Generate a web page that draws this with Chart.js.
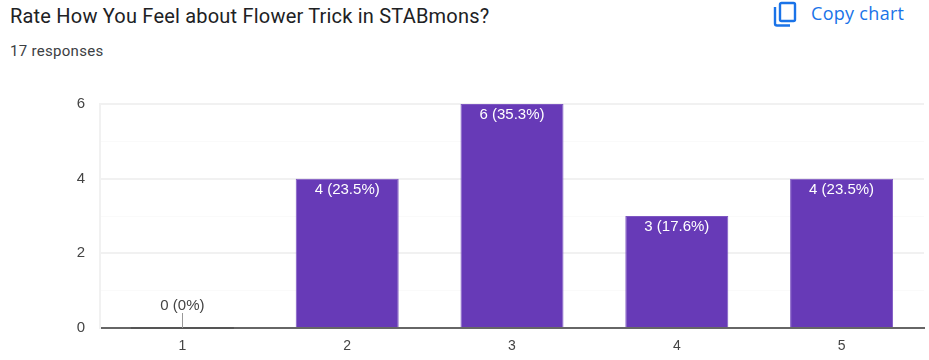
<!DOCTYPE html>
<html>
<head>
<meta charset="utf-8">
<title>Rate How You Feel about Flower Trick in STABmons?</title>
<script src="https://cdn.jsdelivr.net/npm/chart.js@4"></script>
<style>
  html, body { margin: 0; padding: 0; background: #fff; }
  body { width: 929px; height: 360px; position: relative; overflow: hidden; font-family: Roboto, sans-serif; }
  #title { position: absolute; left: 10px; top: 4px; font-size: 20px; line-height: 24px; letter-spacing: .2px; color: #202124; white-space: nowrap; }
  #sub { position: absolute; left: 10px; top: 41px; font-size: 15px; line-height: 20px; color: #3c4043; letter-spacing: .3px; white-space: nowrap; }
  #copy { position: absolute; left: 773px; top: 1px; height: 26px; color: #1a73e8; font-family: "Open Sans", sans-serif; font-size: 18px; line-height: 24px; letter-spacing: .3px; }
  #copy svg { position: absolute; left: 0; top: 0; }
  #copy span { position: absolute; left: 38px; top: 0; white-space: nowrap; }
  #wrap { position: absolute; left: 0; top: 80px; width: 929px; height: 281px; }
</style>
</head>
<body>
<div id="title">Rate How You Feel about Flower Trick in STABmons?</div>
<div id="sub">17 responses</div>
<div id="copy">
  <svg width="24" height="26" viewBox="0 0 24 26" fill="none" stroke="#1a73e8" stroke-width="2.4">
    <rect x="7" y="2" width="15" height="18" rx="1.5"></rect>
    <path d="M2 6 V22.5 Q2 24.5 4 24.5 H17"></path>
  </svg>
  <span>Copy chart</span>
</div>
<div id="wrap"><canvas id="chart"></canvas></div>
<script>
// --- Data ---
const categories = ['1', '2', '3', '4', '5'];
const counts = [0, 4, 6, 3, 4];
const barLabels = ['0 (0%)', '4 (23.5%)', '6 (35.3%)', '3 (17.6%)', '4 (23.5%)'];
const yTickLabels = ['0', '2', '4', '6'];

// value labels sit inside the bar, or above a leader line when the bar is empty
const barLabelPlugin = {
  id: 'barLabels',
  afterDatasetsDraw(chart) {
    const ctx = chart.ctx;
    const y0 = chart.scales.y.getPixelForValue(0);
    ctx.save();
    ctx.font = '15px "Liberation Sans", Arial, sans-serif';
    ctx.textAlign = 'center';
    ctx.textBaseline = 'middle';
    chart.getDatasetMeta(0).data.forEach((bar, i) => {
      if (counts[i] === 0) {
        ctx.fillStyle = '#555';
        ctx.fillRect(bar.x - bar.width / 2, y0 - 1, bar.width, 2);
        ctx.fillStyle = '#999';
        ctx.fillRect(Math.round(bar.x), y0 - 15, 1, 15);
        ctx.fillStyle = '#444';
        ctx.fillText(barLabels[i], bar.x, y0 - 22);
      } else {
        ctx.fillStyle = '#fff';
        ctx.fillText(barLabels[i], bar.x, bar.y + 11);
      }
    });
    ctx.restore();
  }
};

new Chart(document.getElementById('chart'), {
  type: 'bar',
  data: {
    labels: categories,
    datasets: [{
      data: counts,
      backgroundColor: '#673ab7',
      borderColor: '#7e57c2',
      borderWidth: 1,
      barPercentage: 0.625,
      categoryPercentage: 1
    }]
  },
  options: {
    responsive: true,
    maintainAspectRatio: false,
    animation: false,
    layout: { padding: { top: 5, right: 5, left: 0, bottom: 0 } },
    plugins: { legend: { display: false }, tooltip: { enabled: false } },
    scales: {
      x: {
        grid: { display: false },
        border: { color: '#666', width: 2 },
        ticks: { color: '#444', padding: 2, font: { family: '"Liberation Sans", Arial, sans-serif', size: 14 } },
        afterFit: (axis) => { axis.height = 33; }
      },
      y: {
        min: 0,
        max: 6,
        afterFit: (axis) => { axis.width = 100; },
        border: { color: '#f1f1f1', width: 2 },
        grid: {
          drawTicks: false,
          color: (c) => (c.tick.value % 2 === 0 ? '#f1f1f1' : '#fafafa'),
          lineWidth: (c) => (c.tick.value % 2 === 0 ? 2 : 1)
        },
        ticks: {
          stepSize: 1,
          padding: 15,
          color: '#444',
          font: { family: '"Liberation Sans", Arial, sans-serif', size: 15 },
          callback: (v) => (yTickLabels.includes(String(v)) ? String(v) : '')
        }
      }
    }
  },
  plugins: [barLabelPlugin]
});
</script>
</body>
</html>
